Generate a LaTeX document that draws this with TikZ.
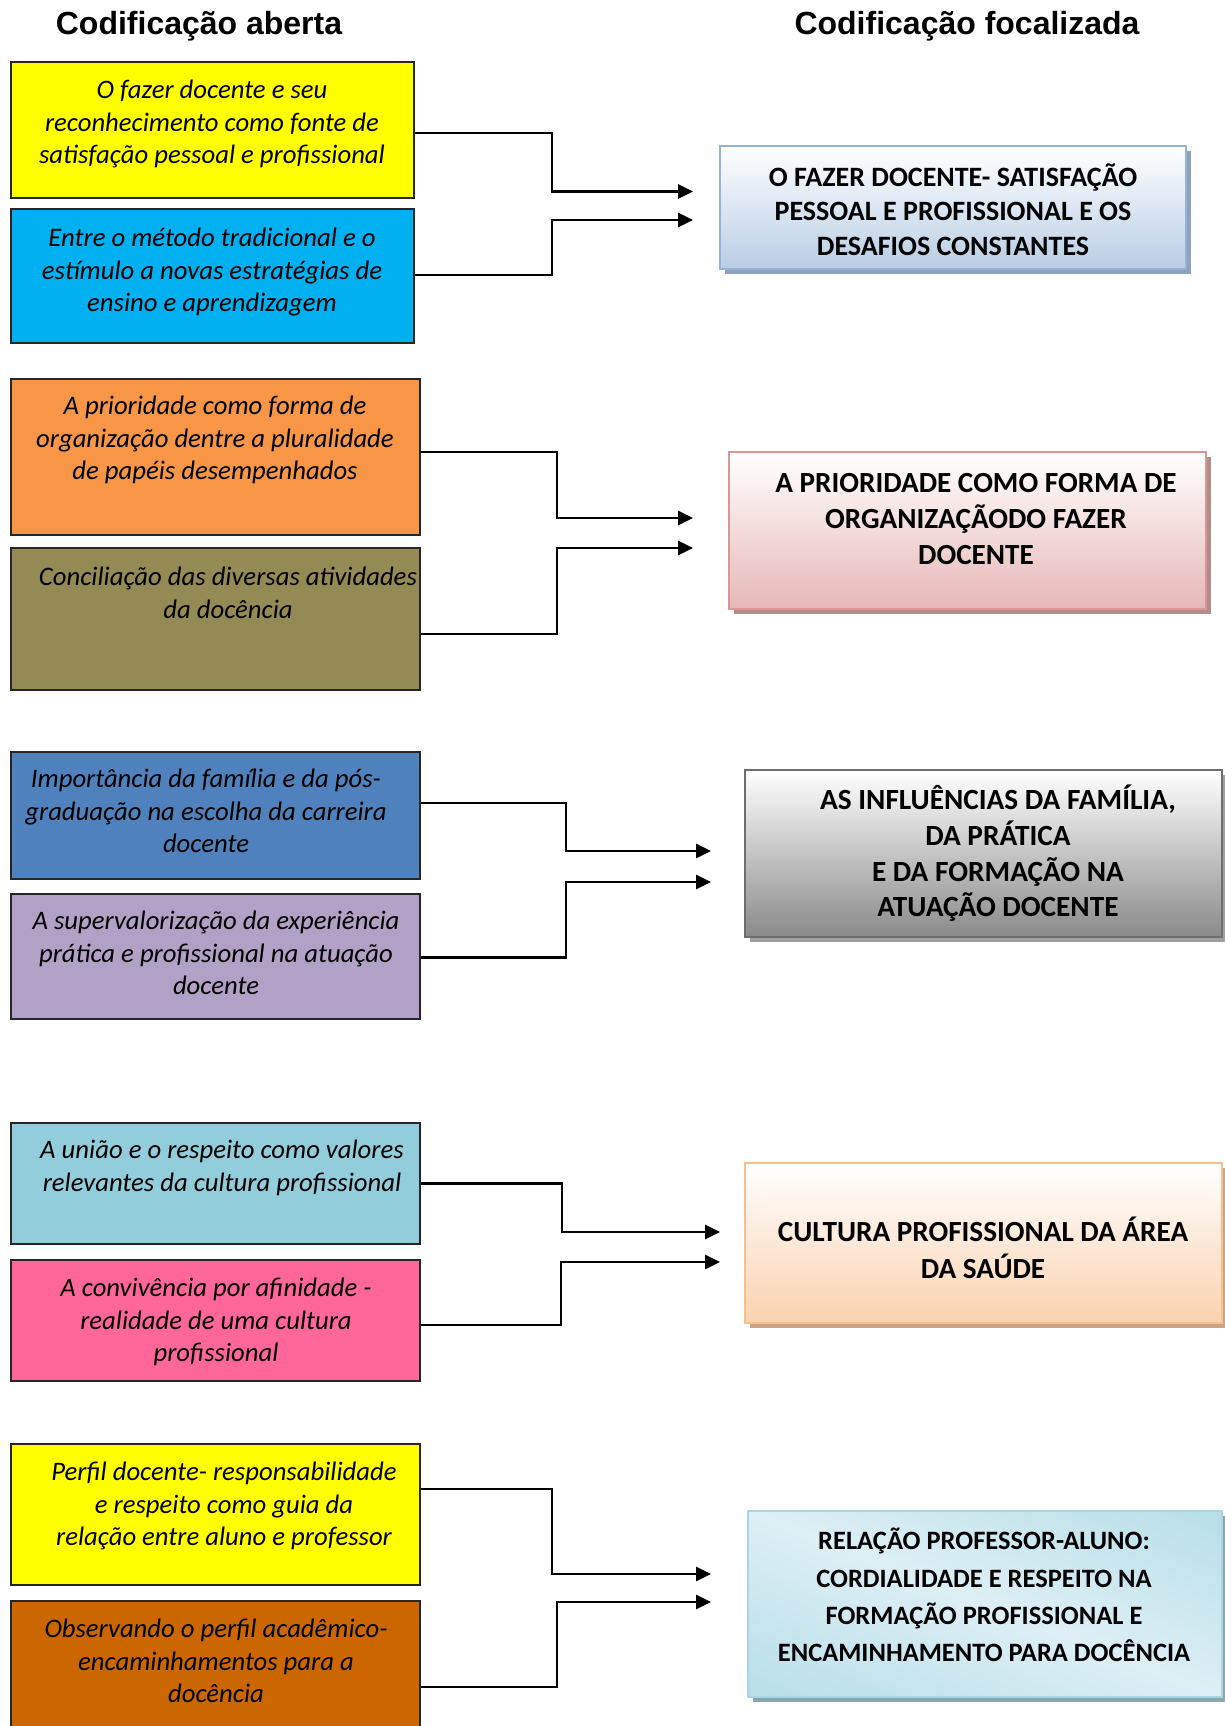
\documentclass[tikz,border=0pt]{standalone}
\usepackage{fontspec}
\setmainfont{Carlito}
\newfontfamily\titlefont{Liberation Sans}
\usetikzlibrary{arrows.meta,shadows}
\definecolor{cyel}{HTML}{FFFF00}
\definecolor{ccyan}{HTML}{00B0F0}
\definecolor{corange}{HTML}{F79646}
\definecolor{colive}{HTML}{948A54}
\definecolor{cblue}{HTML}{4F81BD}
\definecolor{clav}{HTML}{B2A1C7}
\definecolor{clblue}{HTML}{92CDDC}
\definecolor{cpink}{HTML}{FF6699}
\definecolor{cdorange}{HTML}{CC6600}
\definecolor{rAbot}{HTML}{B9CDE5}
\definecolor{rAbrd}{HTML}{95B3D7}
\definecolor{rAsh}{HTML}{8FA2BC}
\definecolor{rBbot}{HTML}{E6B8B7}
\definecolor{rBbrd}{HTML}{D99694}
\definecolor{rBsh}{HTML}{B08C8B}
\definecolor{rCbot}{HTML}{8A8A8A}
\definecolor{rCbrd}{HTML}{6E6E6E}
\definecolor{rCsh}{HTML}{A0A0A0}
\definecolor{rDbot}{HTML}{FAD2B0}
\definecolor{rDbrd}{HTML}{F9BF8F}
\definecolor{rDsh}{HTML}{C9A586}
\definecolor{rEa}{HTML}{94CDDD}
\definecolor{rEb}{HTML}{DCEFF4}
\definecolor{rEbrd}{HTML}{A8D6E3}
\definecolor{rEsh}{HTML}{8AA6AF}
\pgfdeclarehorizontalshading{rfive}{100bp}{color(0bp)=(rEa); color(50bp)=(rEb); color(100bp)=(rEa)}
\begin{document}
\begin{tikzpicture}[x=1pt,y=-1pt,
  lbox/.style={draw=black!85, line width=2pt, inner sep=0pt},
  ltext/.style={anchor=north, inner sep=0pt, align=center, font=\fontsize{26.7}{32.5}\selectfont\itshape},
  rbox/.style={line width=2pt, inner sep=0pt, outer sep=0pt},
  rtext/.style={inner sep=0pt, align=center},
  conn/.style={line width=2.7pt, -{Triangle[length=15pt,width=14pt]}},
  ttl/.style={anchor=base, inner sep=0pt, font=\titlefont\bfseries\fontsize{32}{38}\selectfont}]
\useasboundingbox (0,0) rectangle (1225,1726);
\clip (0,0) rectangle (1225,1726);
\fill[white] (0,0) rectangle (1225,1726);

% titles
\node[ttl] (h1) at (199,35) {Codificação aberta};
\node[ttl] (h2) at (967,35) {Codificação focalizada};

% left boxes
\node[lbox, fill=cyel, minimum width=403pt, minimum height=136pt] (b1) at (212.5,130) {};
\node[lbox, fill=ccyan, minimum width=403pt, minimum height=134pt] (b2) at (212.5,276) {};
\node[lbox, fill=corange, minimum width=409pt, minimum height=156pt] (b3) at (215.5,457) {};
\node[lbox, fill=colive, minimum width=409pt, minimum height=142pt] (b4) at (215.5,619) {};
\node[lbox, fill=cblue, minimum width=409pt, minimum height=127pt] (b5) at (215.5,815.5) {};
\node[lbox, fill=clav, minimum width=409pt, minimum height=125pt] (b6) at (215.5,956.5) {};
\node[lbox, fill=clblue, minimum width=409pt, minimum height=121pt] (b7) at (215.5,1183.5) {};
\node[lbox, fill=cpink, minimum width=409pt, minimum height=121pt] (b8) at (215.5,1320.5) {};
\node[lbox, fill=cyel, minimum width=409pt, minimum height=141pt] (b9) at (215.5,1514.5) {};
\node[lbox, fill=cdorange, minimum width=409pt, minimum height=159pt] (b10) at (215.5,1680.5) {};

% left texts
\node[ltext] (t1) at (212,80) {O fazer docente e seu\\reconhecimento como fonte de\\satisfação pessoal e profissional};
\node[ltext] (t2) at (212,228) {Entre o método tradicional e o\\estímulo a novas estratégias de\\ensino e aprendizagem};
\node[ltext] (t3) at (215,396) {A prioridade como forma de\\organização dentre a pluralidade\\de papéis desempenhados};
\node[ltext] (t4) at (228,567) {Conciliação das diversas atividades\\da docência};
\node[ltext] (t5) at (206,769) {Importância da família e da pós-\\graduação na escolha da carreira\\docente};
\node[ltext] (t6) at (216,911) {A supervalorização da experiência\\prática e profissional na atuação\\docente};
\node[ltext] (t7) at (222,1140) {A união e o respeito como valores\\relevantes da cultura profissional};
\node[ltext] (t8) at (216,1278) {A convivência por afinidade -\\realidade de uma cultura\\profissional};
\node[ltext] (t9) at (224,1462) {Perfil docente- responsabilidade\\e respeito como guia da\\relação entre aluno e professor};
\node[ltext] (t10) at (216,1619) {Observando o perfil acadêmico-\\encaminhamentos para a\\docência};

% right boxes
\node[rbox, draw=rAbrd, top color=white, bottom color=rAbot,
  drop shadow={shadow xshift=5pt, shadow yshift=-5pt, fill=rAsh, opacity=1},
  minimum width=466pt, minimum height=123pt] (r1) at (953,207.5) {};
\node[rbox, draw=rBbrd, top color=white, bottom color=rBbot,
  drop shadow={shadow xshift=5pt, shadow yshift=-5pt, fill=rBsh, opacity=1},
  minimum width=477pt, minimum height=157pt] (r2) at (967.5,530.5) {};
\node[rbox, draw=rCbrd, top color=white, bottom color=rCbot,
  drop shadow={shadow xshift=5pt, shadow yshift=-5pt, fill=rCsh, opacity=1},
  minimum width=477pt, minimum height=167pt] (r3) at (983.5,853.5) {};
\node[rbox, draw=rDbrd, top color=white, bottom color=rDbot,
  drop shadow={shadow xshift=5pt, shadow yshift=-5pt, fill=rDsh, opacity=1},
  minimum width=477pt, minimum height=160pt] (r4) at (983.5,1243) {};
\node[rbox, fill=rEb,
  drop shadow={shadow xshift=5pt, shadow yshift=-5pt, fill=rEsh, opacity=1},
  minimum width=474pt, minimum height=186pt] (r5) at (985,1604) {};
\begin{scope}
  \clip (r5.south west) rectangle (r5.north east);
  \shade[shading=rfive, transform canvas={shift={(r5.center)}, rotate=68.6}]
    (-175,-330) rectangle (175,330);
\end{scope}
\draw[rEbrd, line width=2pt] (r5.south west) rectangle (r5.north east);

% right texts
\node[rtext, font=\bfseries\fontsize{28}{34.7}\selectfont] (s1) at (953,209.5)
  {O FAZER DOCENTE- SATISFAÇÃO\\PESSOAL E PROFISSIONAL E OS\\DESAFIOS CONSTANTES};
\node[rtext, font=\bfseries\fontsize{29.2}{36.3}\selectfont] (s2) at (976,519)
  {A PRIORIDADE COMO FORMA DE\\ORGANIZAÇÃODO FAZER\\DOCENTE};
\node[rtext, font=\bfseries\fontsize{29.3}{35.6}\selectfont] (s3) at (998,853.5)
  {AS INFLUÊNCIAS DA FAMÍLIA,\\DA PRÁTICA\\E DA FORMAÇÃO NA\\ATUAÇÃO DOCENTE};
\node[rtext, font=\bfseries\fontsize{29.2}{37}\selectfont] (s4) at (983,1247.5)
  {CULTURA PROFISSIONAL DA ÁREA\\DA SAÚDE};
\node[rtext, font=\bfseries\fontsize{26.5}{37.4}\selectfont] (s5) at (984,1595)
  {RELAÇÃO PROFESSOR-ALUNO:\\CORDIALIDADE E RESPEITO NA\\FORMAÇÃO PROFISSIONAL E\\ENCAMINHAMENTO PARA DOCÊNCIA};

% arrow end points
\coordinate (a1) at (693,191.5);
\coordinate (a2) at (693,220);
\coordinate (a3) at (693,518);
\coordinate (a4) at (693,548);
\coordinate (a5) at (711,851);
\coordinate (a6) at (711,882);
\coordinate (a7) at (720,1232);
\coordinate (a8) at (720,1262);
\coordinate (a9) at (711,1574);
\coordinate (a10) at (711,1602);

% connectors
\draw[conn] ([yshift=-3pt]b1.east) -| ([xshift=-141pt]a1) -- (a1);
\draw[conn] ([yshift=1pt]b2.east) -| ([xshift=-141pt]a2) -- (a2);
\draw[conn] ([yshift=5pt]b3.east) -| ([xshift=-136pt]a3) -- (a3);
\draw[conn] ([yshift=-15pt]b4.east) -| ([xshift=-136pt]a4) -- (a4);
\draw[conn] ([yshift=12.5pt]b5.east) -| ([xshift=-145pt]a5) -- (a5);
\draw[conn] ([yshift=-1pt]b6.east) -| ([xshift=-145pt]a6) -- (a6);
\draw[conn] (b7.east) -| ([xshift=-158pt]a7) -- (a7);
\draw[conn] ([yshift=-4.5pt]b8.east) -| ([xshift=-159pt]a8) -- (a8);
\draw[conn] ([yshift=25.5pt]b9.east) -| ([xshift=-159pt]a9) -- (a9);
\draw[conn] ([yshift=-6.5pt]b10.east) -| ([xshift=-154pt]a10) -- (a10);
\end{tikzpicture}
\end{document}
